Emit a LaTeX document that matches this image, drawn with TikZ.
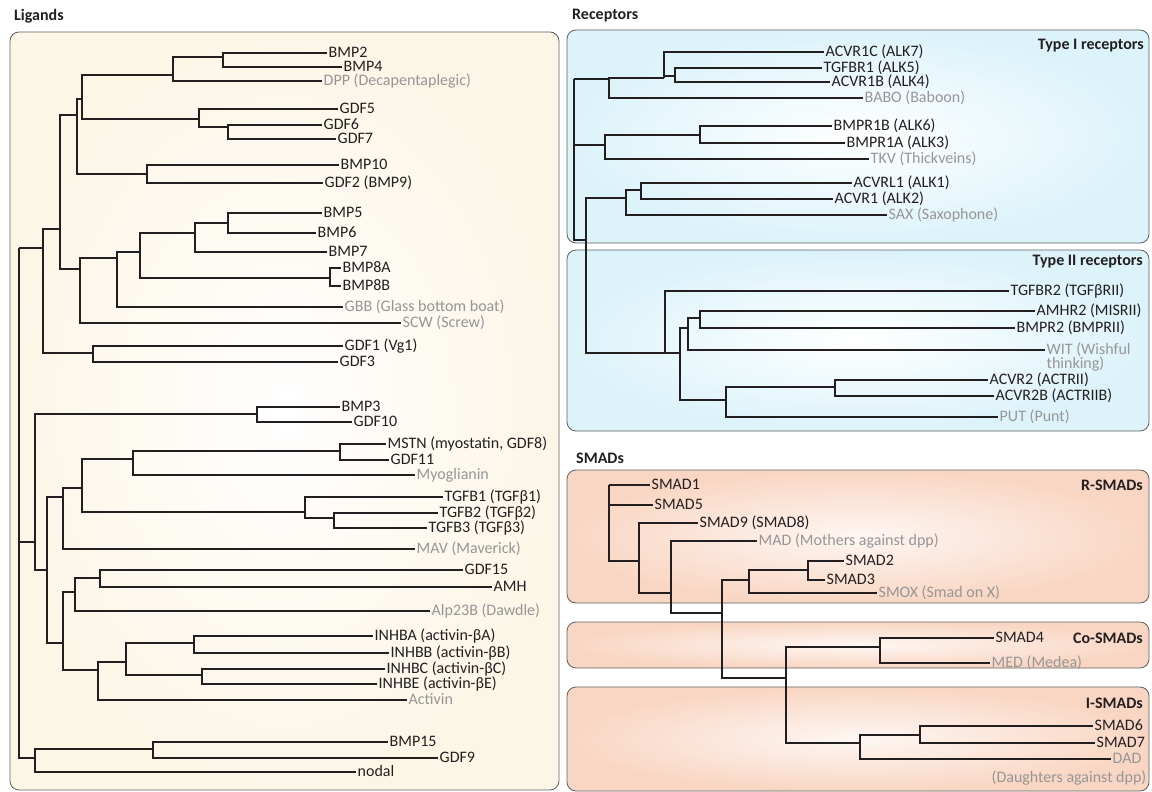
\documentclass[tikz,border=0pt]{standalone}
\usepackage{fontspec}
\setmainfont{Carlito}
\usepackage{tikz}

\definecolor{ink}{RGB}{35,31,32}
\definecolor{flygray}{RGB}{150,150,150}
\definecolor{frame}{RGB}{95,95,95}
\definecolor{cream}{RGB}{252,246,231}
\definecolor{sky}{RGB}{220,243,250}
\definecolor{peach}{RGB}{249,214,195}

\begin{document}
\begin{tikzpicture}[x=1pt,y=-1pt,
  leaf/.style={anchor=west,inner sep=1.5pt,text=ink,text height=10pt,text depth=1pt,font=\fontsize{16}{18}\selectfont},
  flyleaf/.style={leaf,text=flygray},
  branch/.style={line width=1.2pt,draw=ink},
  panel/.style={rounded corners=9pt,draw=frame,line width=0.8pt},
  title/.style={inner sep=0pt,text=ink,font=\bfseries\fontsize{16}{18}\selectfont}]
  \useasboundingbox (0,0) rectangle (1152,792);

  % panels
  \shadedraw[panel,inner color=white,outer color=cream] (10,32) rectangle (559,790);
  \shadedraw[panel,inner color=white,outer color=sky] (567,30) rectangle (1149,243);
  \shadedraw[panel,inner color=white,outer color=sky] (567,250) rectangle (1149,431);
  \shadedraw[panel,inner color=peach!20,outer color=peach] (567,470) rectangle (1149,603);
  \shadedraw[panel,inner color=peach!20,outer color=peach] (567,622) rectangle (1149,668);
  \shadedraw[panel,inner color=peach!20,outer color=peach] (567,687) rectangle (1149,791);

  \node[title,anchor=west] (tlig) at (14,16) {Ligands};
  \node[title,anchor=west] (trec) at (572,16) {Receptors};
  \node[title,anchor=west] (tsmad) at (576,458) {SMADs};
  \node[title,anchor=east] (ttypei) at (1144,46) {Type I receptors};
  \node[title,anchor=east] (ttypeii) at (1143,262) {Type II receptors};
  \node[title,anchor=east] (trsmad) at (1143,485) {R-SMADs};
  \node[title,anchor=east] (tcosmad) at (1143,638) {Co-SMADs};
  \node[title,anchor=east] (tismad) at (1143,703) {I-SMADs};

  % ligands
  \node[leaf] (bmp2) at (327,53) {BMP2};
  \node[leaf] (bmp4) at (342,67) {BMP4};
  \node[flyleaf] (dpp) at (322,81) {DPP (Decapentaplegic)};
  \node[leaf] (gdf5) at (338,109) {GDF5};
  \node[leaf] (gdf6) at (322,125) {GDF6};
  \node[leaf] (gdf7) at (336,139) {GDF7};
  \node[leaf] (bmp10) at (339,165) {BMP10};
  \node[leaf] (gdf2) at (323,183) {GDF2 (BMP9)};
  \node[leaf] (bmp5) at (322,213) {BMP5};
  \node[leaf] (bmp6) at (316,233) {BMP6};
  \node[leaf] (bmp7) at (327,252) {BMP7};
  \node[leaf] (bmp8a) at (341,268) {BMP8A};
  \node[leaf] (bmp8b) at (341,286) {BMP8B};
  \node[flyleaf] (gbb) at (343,307) {GBB (Glass bottom boat)};
  \node[flyleaf] (scw) at (401,323) {SCW (Screw)};
  \node[leaf] (gdf1) at (343,346) {GDF1 (Vg1)};
  \node[leaf] (gdf3) at (338,362) {GDF3};
  \node[leaf] (bmp3) at (340,407) {BMP3};
  \node[leaf] (gdf10) at (352,422) {GDF10};
  \node[leaf] (mstn) at (386,444) {MSTN (myostatin, GDF8)};
  \node[leaf] (gdf11) at (389,460) {GDF11};
  \node[flyleaf] (myo) at (415,475) {Myoglianin};
  \node[leaf] (tgfb1) at (443,497) {TGFB1 (TGFβ1)};
  \node[leaf] (tgfb2) at (438,513) {TGFB2 (TGFβ2)};
  \node[leaf] (tgfb3) at (427,528) {TGFB3 (TGFβ3)};
  \node[flyleaf] (mav) at (415,549) {MAV (Maverick)};
  \node[leaf] (gdf15) at (463,570) {GDF15};
  \node[leaf] (amh) at (492,587) {AMH};
  \node[flyleaf] (alp) at (430,611) {Alp23B (Dawdle)};
  \node[leaf] (inhba) at (373,636) {INHBA (activin-βA)};
  \node[leaf] (inhbb) at (389,653) {INHBB (activin-βB)};
  \node[leaf] (inhbc) at (385,669) {INHBC (activin-βC)};
  \node[leaf] (inhbe) at (377,684) {INHBE (activin-βE)};
  \node[flyleaf] (activin) at (407,700) {Activin};
  \node[leaf] (bmp15) at (388,742) {BMP15};
  \node[leaf] (gdf9) at (438,758) {GDF9};
  \node[leaf] (nodal) at (356,772) {nodal};

  \coordinate (a1) at (223,57);
  \coordinate (a2) at (173,75);
  \coordinate (a3) at (228,127);
  \coordinate (a4) at (199,119);
  \coordinate (a5) at (82,99);
  \coordinate (a6) at (147,174);
  \coordinate (a7) at (77,115);
  \coordinate (a8) at (60,229);
  \coordinate (a9) at (43,248);
  \coordinate (b1) at (228,223);
  \coordinate (b2) at (195,233);
  \coordinate (b3) at (330,278);
  \coordinate (b4) at (140,252);
  \coordinate (b5) at (117,258);
  \coordinate (b6) at (80,269);
  \coordinate (c1) at (93,353);
  \coordinate (lroot) at (19,248);
  \coordinate (d0) at (35,542);
  \coordinate (d1) at (257,414);
  \coordinate (e0) at (47,570);
  \coordinate (e1) at (63,497);
  \coordinate (e2) at (82,488);
  \coordinate (e3) at (133,459);
  \coordinate (e4) at (340,451);
  \coordinate (e5) at (305,512);
  \coordinate (e6) at (334,518);
  \coordinate (g0) at (63,643);
  \coordinate (g1) at (75,592);
  \coordinate (g2) at (100,578);
  \coordinate (h0) at (98,670);
  \coordinate (h1) at (126,662);
  \coordinate (h2) at (194,643);
  \coordinate (h3) at (202,675);
  \coordinate (f0) at (35,758);
  \coordinate (f1) at (153,749);

  \draw[branch] (a1) |- (bmp2) (a1) |- (bmp4);
  \draw[branch] (a2) |- (a1) (a2) |- (dpp);
  \draw[branch] (a3) |- (gdf6) (a3) |- (gdf7);
  \draw[branch] (a4) |- (gdf5) (a4) |- (a3);
  \draw[branch] (a5) |- (a2) (a5) |- (a4);
  \draw[branch] (a6) |- (bmp10) (a6) |- (gdf2);
  \draw[branch] (a7) |- (a5) (a7) |- (a6);
  \draw[branch] (b1) |- (bmp5) (b1) |- (bmp6);
  \draw[branch] (b2) |- (b1) (b2) |- (bmp7);
  \draw[branch] (b3) |- (bmp8a) (b3) |- (bmp8b);
  \draw[branch] (b4) |- (b2) (b4) |- (b3);
  \draw[branch] (b5) |- (b4) (b5) |- (gbb);
  \draw[branch] (b6) |- (b5) (b6) |- (scw);
  \draw[branch] (a8) |- (a7) (a8) |- (b6);
  \draw[branch] (c1) |- (gdf1) (c1) |- (gdf3);
  \draw[branch] (a9) |- (a8) (a9) |- (c1);
  \draw[branch] (lroot) |- (a9) (lroot) |- (d0) (lroot) |- (f0);
  \draw[branch] (d1) |- (bmp3) (d1) |- (gdf10);
  \draw[branch] (d0) |- (d1) (d0) |- (e0);
  \draw[branch] (e0) |- (e1) (e0) |- (g0);
  \draw[branch] (e1) |- (e2) (e1) |- (mav);
  \draw[branch] (e2) |- (e3) (e2) |- (e5);
  \draw[branch] (e3) |- (e4) (e3) |- (myo);
  \draw[branch] (e4) |- (mstn) (e4) |- (gdf11);
  \draw[branch] (e5) |- (tgfb1) (e5) |- (e6);
  \draw[branch] (e6) |- (tgfb2) (e6) |- (tgfb3);
  \draw[branch] (g0) |- (g1) (g0) |- (h0);
  \draw[branch] (g1) |- (g2) (g1) |- (alp);
  \draw[branch] (g2) |- (gdf15) (g2) |- (amh);
  \draw[branch] (h0) |- (h1) (h0) |- (activin);
  \draw[branch] (h1) |- (h2) (h1) |- (h3);
  \draw[branch] (h2) |- (inhba) (h2) |- (inhbb);
  \draw[branch] (h3) |- (inhbc) (h3) |- (inhbe);
  \draw[branch] (f0) |- (f1) (f0) |- (nodal);
  \draw[branch] (f1) |- (bmp15) (f1) |- (gdf9);

  % receptors
  \node[leaf] (acvr1c) at (824,52) {ACVR1C (ALK7)};
  \node[leaf] (tgfbr1) at (822,68) {TGFBR1 (ALK5)};
  \node[leaf] (acvr1b) at (830,82) {ACVR1B (ALK4)};
  \node[flyleaf] (babo) at (863,98) {BABO (Baboon)};
  \node[leaf] (bmpr1b) at (832,126) {BMPR1B (ALK6)};
  \node[leaf] (bmpr1a) at (845,143) {BMPR1A (ALK3)};
  \node[flyleaf] (tkv) at (869,159) {TKV (Thickveins)};
  \node[leaf] (acvrl1) at (852,183) {ACVRL1 (ALK1)};
  \node[leaf] (acvr1) at (833,199) {ACVR1 (ALK2)};
  \node[flyleaf] (sax) at (887,215) {SAX (Saxophone)};
  \node[leaf] (tgfbr2) at (1009,291) {TGFBR2 (TGFβRII)};
  \node[leaf] (amhr2) at (1035,311) {AMHR2 (MISRII)};
  \node[leaf] (bmpr2) at (1015,328) {BMPR2 (BMPRII)};
  \node[flyleaf] (wit) at (1045,350) {WIT (Wishful};
  \node[flyleaf,anchor=north west] (witb) at (wit.south west) {thinking)};
  \node[leaf] (acvr2) at (988,380) {ACVR2 (ACTRII)};
  \node[leaf] (acvr2b) at (994,396) {ACVR2B (ACTRIIB)};
  \node[flyleaf] (put) at (998,417) {PUT (Punt)};

  \coordinate (r0) at (574,79);
  \coordinate (r1) at (675,76);
  \coordinate (r2) at (664,78);
  \coordinate (r3) at (609,79);
  \coordinate (r4) at (700,135);
  \coordinate (r5) at (605,145);
  \coordinate (r6) at (641,190);
  \coordinate (r7) at (626,198);
  \coordinate (r8) at (586,240);
  \coordinate (s0) at (665,353);
  \coordinate (s1) at (680,353);
  \coordinate (s2) at (688,328);
  \coordinate (s3) at (700,318);
  \coordinate (s4) at (726,400);
  \coordinate (s5) at (835,387);

  \draw[branch] (r1) |- (tgfbr1) (r1) |- (acvr1b);
  \draw[branch] (r2) |- (acvr1c) (r2) |- (r1);
  \draw[branch] (r3) |- (r2) (r3) |- (babo);
  \draw[branch] (r4) |- (bmpr1b) (r4) |- (bmpr1a);
  \draw[branch] (r5) |- (r4) (r5) |- (tkv);
  \draw[branch] (r6) |- (acvrl1) (r6) |- (acvr1);
  \draw[branch] (r7) |- (r6) (r7) |- (sax);
  \draw[branch] (r0) |- (r3) (r0) |- (r5) (r0) |- (r8);
  \draw[branch] (r8) |- (r7) (r8) |- (s0);
  \draw[branch] (s0) |- (tgfbr2) (s0) |- (s1);
  \draw[branch] (s1) |- (s2) (s1) |- (s4);
  \draw[branch] (s2) |- (s3) (s2) |- (wit);
  \draw[branch] (s3) |- (amhr2) (s3) |- (bmpr2);
  \draw[branch] (s4) |- (s5) (s4) |- (put);
  \draw[branch] (s5) |- (acvr2) (s5) |- (acvr2b);

  % smads
  \node[leaf] (smad1) at (650,485) {SMAD1};
  \node[leaf] (smad5) at (653,505) {SMAD5};
  \node[leaf] (smad9) at (698,523) {SMAD9 (SMAD8)};
  \node[flyleaf] (mad) at (757,541) {MAD (Mothers against dpp)};
  \node[leaf] (smad2) at (844,561) {SMAD2};
  \node[leaf] (smad3) at (825,580) {SMAD3};
  \node[flyleaf] (smox) at (877,593) {SMOX (Smad on X)};
  \node[leaf] (smad4) at (994,638) {SMAD4};
  \node[flyleaf] (med) at (990,663) {MED (Medea)};
  \node[leaf] (smad6) at (1093,726) {SMAD6};
  \node[leaf] (smad7) at (1095,743) {SMAD7};
  \node[flyleaf] (dad) at (1111,759) {DAD};
  \node[flyleaf,anchor=east] (dadb) at (1148,778) {(Daughters against dpp)};

  \coordinate (m0) at (609,485);
  \coordinate (m1) at (639,561);
  \coordinate (m2) at (671,593);
  \coordinate (m3) at (722,613);
  \coordinate (m4) at (749,580);
  \coordinate (m5) at (808,570);
  \coordinate (m6) at (786,678);
  \coordinate (m7) at (880,647);
  \coordinate (m8) at (860,743);
  \coordinate (m9) at (920,735);

  \draw[branch] (m0) |- (smad1) (m0) |- (smad5) (m0) |- (m1);
  \draw[branch] (m1) |- (smad9) (m1) |- (m2);
  \draw[branch] (m2) |- (mad) (m2) |- (m3);
  \draw[branch] (m3) |- (m4) (m3) |- (m6);
  \draw[branch] (m4) |- (m5) (m4) |- (smox);
  \draw[branch] (m5) |- (smad2) (m5) |- (smad3);
  \draw[branch] (m6) |- (m7) (m6) |- (m8);
  \draw[branch] (m7) |- (smad4) (m7) |- (med);
  \draw[branch] (m8) |- (m9) (m8) |- (dad);
  \draw[branch] (m9) |- (smad6) (m9) |- (smad7);
\end{tikzpicture}
\end{document}
